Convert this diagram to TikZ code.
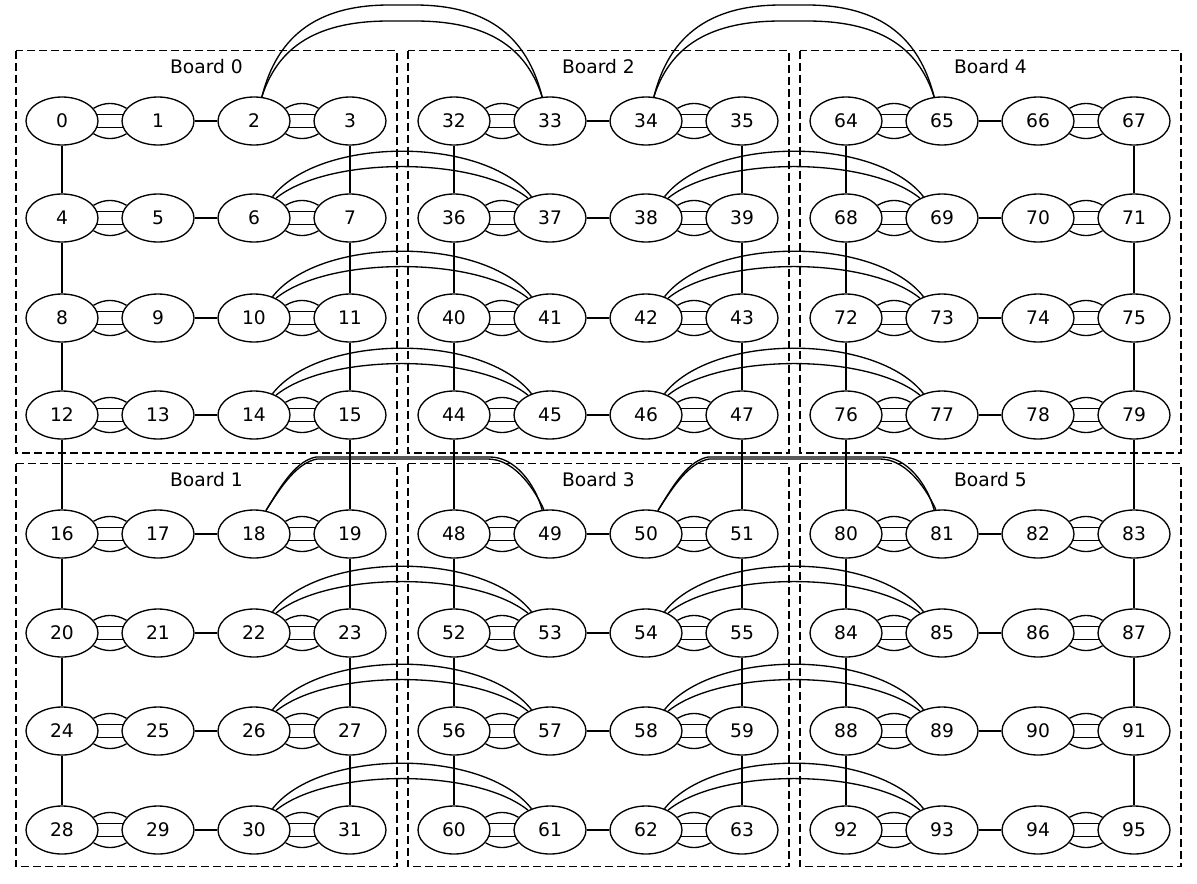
\documentclass[tikz,border=0pt]{standalone}
\usepackage{fontspec}
\setmainfont{DejaVu Sans}
\usetikzlibrary{shapes.geometric,calc}
\newcommand\mEdge[2]{%
  \draw[edge] (n#1.22) to[bend left=30] (n#2.158);
  \draw[edge] (n#1.10) -- (n#2.170);
  \draw[edge] (n#1.-10) -- (n#2.-170);
  \draw[edge] (n#1.-22) to[bend right=30] (n#2.-158);}
\newcommand\xArcs[2]{%
  \draw[edge] (n#1.49) .. controls ($(n#1)+(66,-82)$) and ($(n#2)+(-66,-82)$) .. (n#2.131);
  \draw[edge] (n#1.42) .. controls ($(n#1)+(74,-62)$) and ($(n#2)+(-74,-62)$) .. (n#2.138);}
\newcommand\topArcs[2]{%
  \draw[edge] (n#1.72) .. controls ($(n#1)+(20,-72)$) and ($(n#1)+(50,-116)$) .. ($(n#1)+(135,-116)$)
     -- ($(n#2)+(-135,-116)$) .. controls ($(n#2)+(-50,-116)$) and ($(n#2)+(-20,-72)$) .. (n#2.108);
  \draw[edge] (n#1.72) .. controls ($(n#1)+(22,-68)$) and ($(n#1)+(55,-100)$) .. ($(n#1)+(135,-100)$)
     -- ($(n#2)+(-135,-100)$) .. controls ($(n#2)+(-55,-100)$) and ($(n#2)+(-22,-68)$) .. (n#2.108);}
\newcommand\midArcs[2]{%
  \draw[edge] (n#1.63) .. controls ($(n#1)+(28,-50)$) and ($(n#1)+(42,-73)$) .. ($(n#1)+(62,-77)$)
     -- ($(n#2)+(-60,-77)$) .. controls ($(n#2)+(-35,-77)$) and ($(n#2)+(-15,-50)$) .. (n#2.108);
  \draw[edge] (n#1.63) .. controls ($(n#1)+(28,-49)$) and ($(n#1)+(43,-71)$) .. ($(n#1)+(63,-75)$)
     -- ($(n#2)+(-62,-75)$) .. controls ($(n#2)+(-38,-75)$) and ($(n#2)+(-18,-50)$) .. (n#2.104);}
\begin{document}
\begin{tikzpicture}[x=0.75pt,y=-0.75pt,
  vtx/.style={ellipse,draw,line width=1pt,minimum width=54pt,minimum height=36pt,inner sep=0pt,
    font=\fontsize{14}{16}\selectfont},
  board/.style={draw,dash pattern=on 6pt off 3pt,line width=1pt},
  boardlabel/.style={font=\fontsize{14}{16}\selectfont,inner sep=0pt},
  edge/.style={line width=1pt}]
\useasboundingbox (0,0) rectangle (1197,883);
% boards
\foreach \g in {0,1,2}{
  \foreach \h in {0,1}{
    \pgfmathtruncatemacro\bd{2*\g+\h}
    \pgfmathsetmacro\xl{16+392*\g}
    \pgfmathsetmacro\xr{397+392*\g}
    \pgfmathsetmacro\yt{\h==0 ? 50.5 : 463.5}
    \pgfmathsetmacro\yb{\h==0 ? 453 : 866.5}
    \pgfmathsetmacro\xm{206.5+392*\g}
    \pgfmathsetmacro\ym{\yt+16}
    \draw[board] (\xl,\yt) rectangle (\xr,\yb);
    \node[boardlabel] (lab\bd) at (\xm,\ym) {Board \bd};
  }
}
% nodes
\def\rowY{{121,218,318,415,534,633,731,830}}
\foreach \g in {0,1,2}{
  \foreach \R in {0,...,7}{
    \foreach \c in {0,...,3}{
      \pgfmathtruncatemacro\id{32*\g+16*int(\R/4)+4*mod(\R,4)+\c}
      \pgfmathsetmacro\xx{62+392*\g+96*\c}
      \pgfmathsetmacro\yy{\rowY[\R]}
      \node[vtx] (n\id) at (\xx,\yy) {\id};
    }
  }
}
% row edges
\foreach \g in {0,1,2}{
  \foreach \R in {0,...,7}{
    \pgfmathtruncatemacro\a{32*\g+16*int(\R/4)+4*mod(\R,4)}
    \pgfmathtruncatemacro\b{\a+1}
    \pgfmathtruncatemacro\c{\a+2}
    \pgfmathtruncatemacro\d{\a+3}
    \mEdge{\a}{\b}
    \draw[edge] (n\b) -- (n\c);
    \mEdge{\c}{\d}
  }
}
% vertical edges
\foreach \g in {0,1,2}{
  \foreach \R in {0,...,6}{
    \foreach \c in {0,3}{
      \pgfmathtruncatemacro\p{32*\g+16*int(\R/4)+4*mod(\R,4)+\c}
      \pgfmathtruncatemacro\q{32*\g+16*int((\R+1)/4)+4*mod(\R+1,4)+\c}
      \draw[edge] (n\p.south) -- (n\q.north);
    }
  }
}
% cross-board arcs
\foreach \g in {0,1}{
  \foreach \R in {0,...,7}{
    \pgfmathtruncatemacro\p{32*\g+16*int(\R/4)+4*mod(\R,4)+2}
    \pgfmathtruncatemacro\q{32*(\g+1)+16*int(\R/4)+4*mod(\R,4)+1}
    \ifnum\R=0 \topArcs{\p}{\q}\else\ifnum\R=4 \midArcs{\p}{\q}\else\xArcs{\p}{\q}\fi\fi
  }
}
\end{tikzpicture}
\end{document}
